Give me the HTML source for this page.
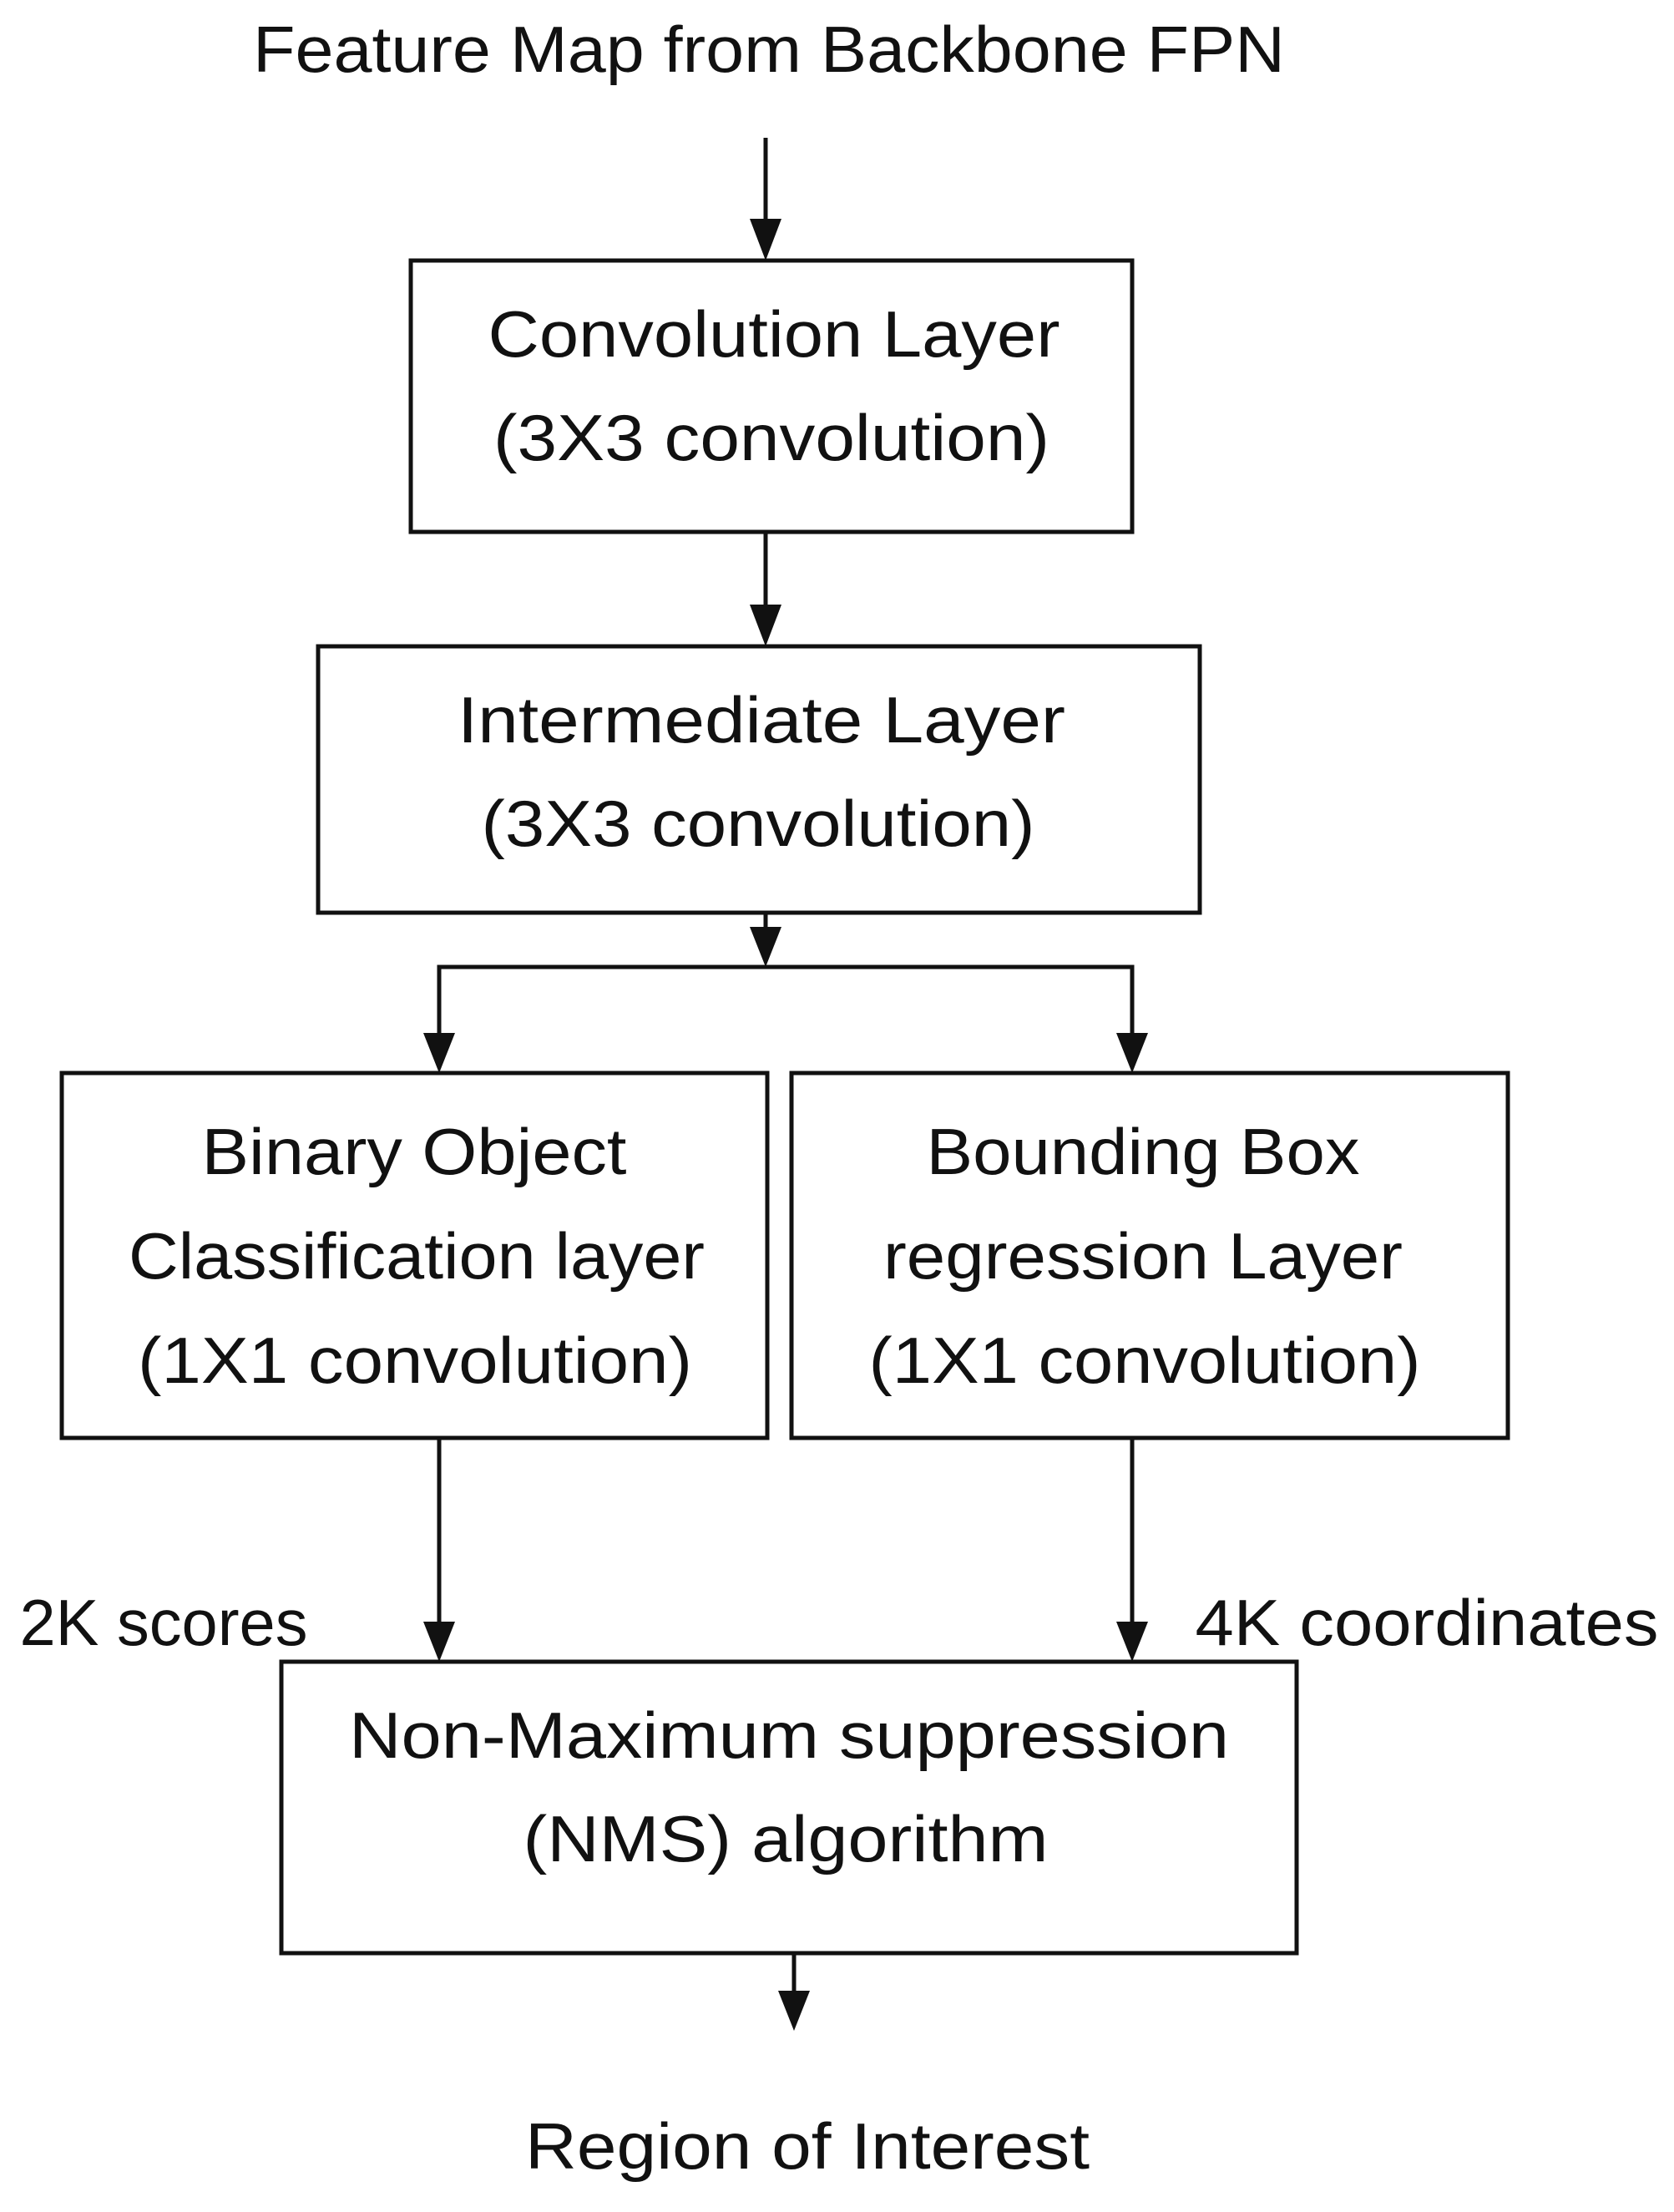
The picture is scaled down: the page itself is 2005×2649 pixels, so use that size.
<!DOCTYPE html>
<html><head><meta charset="utf-8"><style>
html,body{margin:0;padding:0;background:#fff;}
svg{display:block;}
text{font-family:"Liberation Sans",sans-serif;font-size:78px;fill:#111;dominant-baseline:central;text-anchor:middle;}
</style></head><body>
<svg width="2005" height="2649" viewBox="0 0 2005 2649" xmlns="http://www.w3.org/2000/svg">
<g stroke="#111" stroke-width="5" fill="none">
<rect x="492" y="312" width="864" height="325"/>
<rect x="381" y="774" width="1056" height="319"/>
<rect x="74" y="1285" width="845" height="437"/>
<rect x="948" y="1285" width="858" height="437"/>
<rect x="337" y="1990" width="1216" height="349"/>
<line x1="917" y1="165" x2="917" y2="270"/>
<line x1="917" y1="637" x2="917" y2="732"/>
<line x1="917" y1="1093" x2="917" y2="1120"/>
<polyline points="526,1243 526,1158 1356,1158 1356,1243"/>
<line x1="526" y1="1722" x2="526" y2="1948"/>
<line x1="1356" y1="1722" x2="1356" y2="1948"/>
<line x1="951" y1="2339" x2="951" y2="2390"/>
</g>
<g fill="#111">
<polygon points="898,262 936,262 917,312"/>
<polygon points="898,724 936,724 917,774"/>
<polygon points="898,1110 936,1110 917,1158"/>
<polygon points="507,1237 545,1237 526,1285"/>
<polygon points="1337,1237 1375,1237 1356,1285"/>
<polygon points="507,1942 545,1942 526,1990"/>
<polygon points="1337,1942 1375,1942 1356,1990"/>
<polygon points="932,2384 970,2384 951,2432"/>
</g>
<text x="921" y="59" textLength="1236" lengthAdjust="spacingAndGlyphs">Feature Map from Backbone FPN</text>
<text x="927" y="400" textLength="685" lengthAdjust="spacingAndGlyphs">Convolution Layer</text>
<text x="924" y="524" textLength="666" lengthAdjust="spacingAndGlyphs">(3X3 convolution)</text>
<text x="912" y="862" textLength="728" lengthAdjust="spacingAndGlyphs">Intermediate Layer</text>
<text x="908" y="986" textLength="663" lengthAdjust="spacingAndGlyphs">(3X3 convolution)</text>
<text x="496" y="1379" textLength="509" lengthAdjust="spacingAndGlyphs">Binary Object</text>
<text x="499" y="1504" textLength="690" lengthAdjust="spacingAndGlyphs">Classification layer</text>
<text x="497" y="1629" textLength="664" lengthAdjust="spacingAndGlyphs">(1X1 convolution)</text>
<text x="1369" y="1379" textLength="519" lengthAdjust="spacingAndGlyphs">Bounding Box</text>
<text x="1369" y="1504" textLength="622" lengthAdjust="spacingAndGlyphs">regression Layer</text>
<text x="1371" y="1629" textLength="661" lengthAdjust="spacingAndGlyphs">(1X1 convolution)</text>
<text x="196" y="1943" textLength="345" lengthAdjust="spacingAndGlyphs">2K scores</text>
<text x="1709" y="1943" textLength="555" lengthAdjust="spacingAndGlyphs">4K coordinates</text>
<text x="945" y="2078" textLength="1054" lengthAdjust="spacingAndGlyphs">Non-Maximum suppression</text>
<text x="941" y="2202" textLength="629" lengthAdjust="spacingAndGlyphs">(NMS) algorithm</text>
<text x="967" y="2570" textLength="676" lengthAdjust="spacingAndGlyphs">Region of Interest</text>
</svg>
</body></html>
